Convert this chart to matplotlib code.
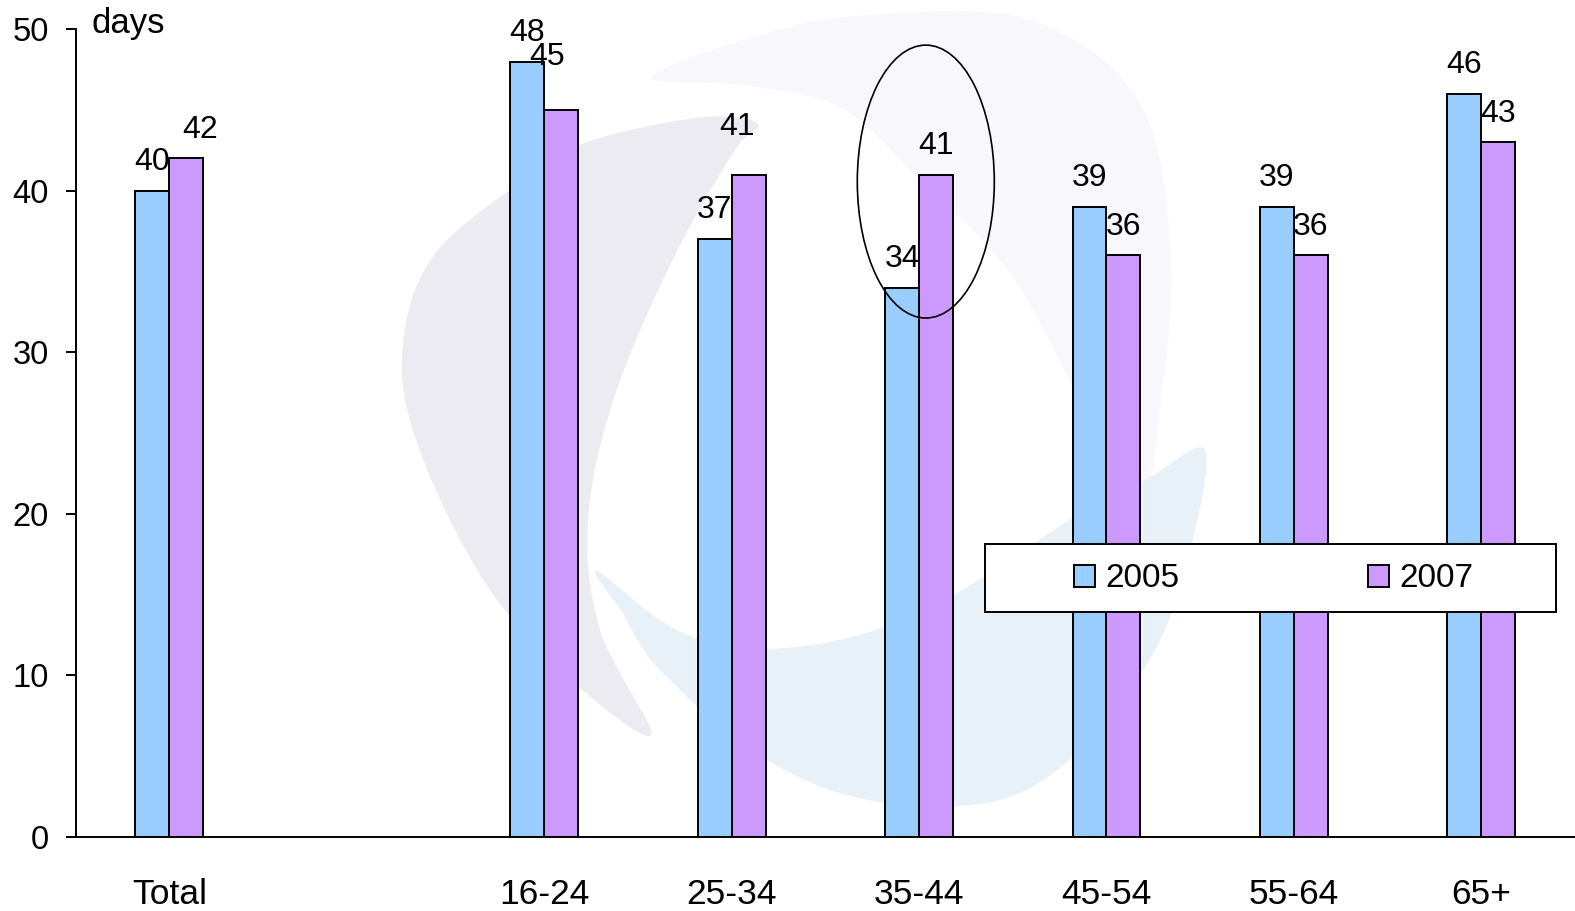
import numpy as np
import matplotlib
matplotlib.use('Agg')
import matplotlib.pyplot as plt
from matplotlib.patches import Ellipse, Rectangle, Polygon

# ---------------- data ----------------
categories = ['Total', '16-24', '25-34', '35-44', '45-54', '55-64', '65+']
values_2005 = [40, 48, 37, 34, 39, 39, 46]
values_2007 = [42, 45, 41, 41, 36, 36, 43]
series_labels = ['2005', '2007']
y_ticks = [0, 10, 20, 30, 40, 50]
y_unit = 'days'

# ---------------- style ----------------
color_2005 = '#99ccff'
color_2007 = '#cc99ff'
bar_width = 0.181
# per-label nudges (pixels) for the 2007 value labels, as in the original
label_dx_2007 = [14, -14, -12, 0, 0, 0, 0]
label_dy_2007 = [0, 24, 19, 0, 0, 0, 0]

plt.rcParams['font.family'] = ['Liberation Sans', 'DejaVu Sans']

W, H = 1575, 911
fig = plt.figure(figsize=(W / 100, H / 100), dpi=100)
ax = fig.add_axes([75.7 / W, 1 - 836.7 / H, (1575 - 75.7) / W, (836.7 - 29.3) / H])
ax.set_facecolor('none')


# ---------------- faint background swirl (decoration) ----------------
def smooth_closed(points, n=30):
    P = np.array(points, float)
    m = len(P)
    out = []
    t = np.linspace(0, 1, n, endpoint=False)[:, None]
    for i in range(m):
        p0, p1, p2, p3 = P[(i - 1) % m], P[i], P[(i + 1) % m], P[(i + 2) % m]
        pt = 0.5 * ((2 * p1) + (-p0 + p2) * t + (2 * p0 - 5 * p1 + 4 * p2 - p3) * t ** 2
                    + (-p0 + 3 * p1 - 3 * p2 + p3) * t ** 3)
        out.append(pt)
    xy = np.vstack(out)
    return np.column_stack([xy[:, 0] / W, 1 - xy[:, 1] / H])


lavender = [(651, 77), (760, 35), (868, 15), (1030, 20), (1139, 102), (1171, 255),
            (1160, 408), (1140, 500), (1080, 400), (1010, 273), (920, 180), (840, 107), (740, 85)]
grey = [(758, 124), (705, 117), (600, 138), (542, 168), (434, 255), (402, 357), (423, 459),
        (488, 587), (570, 679), (651, 735), (600, 630), (588, 520), (615, 395), (675, 255), (735, 150)]
blue = [(1204, 449), (1150, 477), (1085, 510), (922, 612), (786, 648), (683, 633), (597, 571),
        (622, 612), (660, 670), (759, 755), (868, 800), (1000, 800), (1090, 740), (1160, 640), (1195, 530)]
for pts, col in [(lavender, '#f8f7fb'), (grey, '#ecebf1'), (blue, '#e9f1f8')]:
    poly = Polygon(smooth_closed(pts), closed=True, facecolor=col, edgecolor='none',
                   transform=fig.transFigure, zorder=0, clip_on=False)
    ax.add_patch(poly)

# ---------------- bars ----------------
n = len(categories)
idx = np.arange(n)
x = idx + (idx > 0)  # one empty slot after "Total"

lw = 1.4
b1 = ax.bar(x - bar_width / 2, values_2005, bar_width, color=color_2005,
            edgecolor='black', linewidth=lw, label=series_labels[0], zorder=2)
b2 = ax.bar(x + bar_width / 2, values_2007, bar_width, color=color_2007,
            edgecolor='black', linewidth=lw, label=series_labels[1], zorder=2)

px = 0.72  # points per pixel
vfs = 23
for i in range(n):
    ax.annotate(str(values_2005[i]), (x[i] - bar_width / 2, values_2005[i]),
                xytext=(0, 15), textcoords='offset points', ha='center', va='baseline',
                fontsize=vfs, zorder=7)
    ax.annotate(str(values_2007[i]), (x[i] + bar_width / 2, values_2007[i]),
                xytext=(label_dx_2007[i] * px, 15 + label_dy_2007[i] * px),
                textcoords='offset points', ha='center', va='baseline',
                fontsize=vfs, zorder=7)

# highlight ellipse around 35-44
ax.add_patch(Ellipse((4.036, 40.57), 0.731, 16.9, fill=False, edgecolor='black',
                     linewidth=1.2, zorder=6))

# ---------------- axes ----------------
ax.set_xlim(-0.5, 7.5)
ax.set_ylim(0, 50)
ax.set_yticks(y_ticks)
ax.set_xticks(x)
ax.set_xticklabels(categories)
ax.tick_params(axis='y', length=7.5, width=lw, pad=12, labelsize=23.5, direction='out')
ax.tick_params(axis='x', length=0, pad=29.5, labelsize=25.5)
for s in ['top', 'right']:
    ax.spines[s].set_visible(False)
for s in ['left', 'bottom']:
    ax.spines[s].set_linewidth(lw)
    ax.spines[s].set_zorder(3)

ax.text(0.0107, 0.9954, y_unit, transform=ax.transAxes, ha='left', va='baseline', fontsize=25)

# ---------------- legend ----------------
ax.add_patch(Rectangle((0.6065, 0.2787), 0.381, 0.0838, transform=ax.transAxes,
                       facecolor='white', edgecolor='black', linewidth=lw, zorder=4,
                       clip_on=False))
leg = ax.legend(loc='center', bbox_to_anchor=(0.7989, 0.3192), ncol=2, frameon=False,
                fontsize=24, handlelength=0.65, handleheight=0.65, handletextpad=0.3,
                columnspacing=5.65, borderpad=0)
leg.set_zorder(5)

fig.savefig('out.png', dpi=100)
